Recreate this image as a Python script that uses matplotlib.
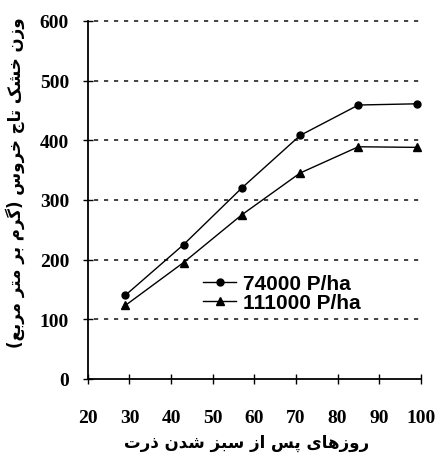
import matplotlib.pyplot as plt

# data
days = [29, 43, 57, 71, 85, 99]
w_74000 = [140, 225, 320, 408, 459, 461]
w_111000 = [123, 195, 275, 345, 389, 388]
labels = ['74000 P/ha', '111000 P/ha']
y_ticks = [0, 100, 200, 300, 400, 500, 600]
x_ticks = [20, 30, 40, 50, 60, 70, 80, 90, 100]

ylabel_fa = 'وزن خشک تاج خروس (گرم بر متر مربع)'
xlabel_fa = 'روزهای پس از سبز شدن ذرت'


# small persian shaper: matplotlib does no contextual shaping / RTL
FORMS = {
    'ا': ('\uFE8D', '\uFE8E'), 'د': ('\uFEA9', '\uFEAA'), 'ذ': ('\uFEAB', '\uFEAC'),
    'ر': ('\uFEAD', '\uFEAE'), 'ز': ('\uFEAF', '\uFEB0'), 'و': ('\uFEED', '\uFEEE'),
    'ب': ('\uFE8F', '\uFE90', '\uFE91', '\uFE92'), 'پ': ('\uFB56', '\uFB57', '\uFB58', '\uFB59'),
    'ت': ('\uFE95', '\uFE96', '\uFE97', '\uFE98'), 'ج': ('\uFE9D', '\uFE9E', '\uFE9F', '\uFEA0'),
    'خ': ('\uFEA5', '\uFEA6', '\uFEA7', '\uFEA8'), 'س': ('\uFEB1', '\uFEB2', '\uFEB3', '\uFEB4'),
    'ش': ('\uFEB5', '\uFEB6', '\uFEB7', '\uFEB8'), 'ع': ('\uFEC9', '\uFECA', '\uFECB', '\uFECC'),
    'ک': ('\uFB8E', '\uFB8F', '\uFB90', '\uFB91'), 'گ': ('\uFB92', '\uFB93', '\uFB94', '\uFB95'),
    'ل': ('\uFEDD', '\uFEDE', '\uFEDF', '\uFEE0'), 'م': ('\uFEE1', '\uFEE2', '\uFEE3', '\uFEE4'),
    'ن': ('\uFEE5', '\uFEE6', '\uFEE7', '\uFEE8'), 'ه': ('\uFEE9', '\uFEEA', '\uFEEB', '\uFEEC'),
    'ی': ('\uFBFC', '\uFBFD', '\uFBFE', '\uFBFF'),
}


def shape(text):
    out = []
    n = len(text)
    for i, ch in enumerate(text):
        if ch not in FORMS:
            out.append({'(': ')', ')': '('}.get(ch, ch))
            continue
        f = FORMS[ch]
        prev = text[i - 1] if i > 0 else ''
        nxt = text[i + 1] if i < n - 1 else ''
        join_prev = prev in FORMS and len(FORMS[prev]) == 4
        join_next = len(f) == 4 and nxt in FORMS
        if join_prev and join_next:
            out.append(f[3])
        elif join_prev:
            out.append(f[1])
        elif join_next:
            out.append(f[2])
        else:
            out.append(f[0])
    return ''.join(reversed(out))


fig = plt.figure(figsize=(4.37, 4.56), dpi=100)
ax = fig.add_axes([0.201, 0.167, 0.762, 0.785])

ax.plot(days, w_74000, color='black', lw=1.0, marker='o', ms=5, label=labels[0])
ax.plot(days, w_111000, color='black', lw=1.0, marker='^', ms=6, label=labels[1])

ax.set_xlim(20, 100)
ax.set_ylim(0, 600)
ax.set_xticks(x_ticks)
ax.set_yticks(y_ticks)
for y in y_ticks[1:]:
    ax.axhline(y, xmin=0.02, xmax=1.01, color='#222222', lw=1.2, ls=(0, (2.5, 3.5)),
               clip_on=False, zorder=0)

for s in ['top', 'right']:
    ax.spines[s].set_visible(False)
ax.spines['left'].set_linewidth(1.3)
ax.spines['bottom'].set_linewidth(1.3)
ax.tick_params(direction='inout', length=7, width=1.0)
ax.tick_params(axis='x', pad=18)
ax.tick_params(axis='y', pad=10)
for lab in ax.get_xticklabels() + ax.get_yticklabels():
    lab.set_fontfamily('Liberation Serif')
    lab.set_fontweight('bold')
    lab.set_fontsize(14)

leg = ax.legend(loc='upper left', bbox_to_anchor=(0.29, 0.345), frameon=False,
                handlelength=1.6, handletextpad=0.3, labelspacing=0.0,
                prop={'family': 'Liberation Sans', 'weight': 'bold', 'size': 15})

fig.text(0.035, 0.6, shape(ylabel_fa), rotation=90, ha='center', va='center',
         fontsize=12, fontweight='bold', family=['DejaVu Sans'])
fig.text(0.565, 0.028, shape(xlabel_fa), ha='center', va='center',
         fontsize=12, fontweight='bold', family=['DejaVu Sans'])

fig.savefig('out.png', dpi=100)
